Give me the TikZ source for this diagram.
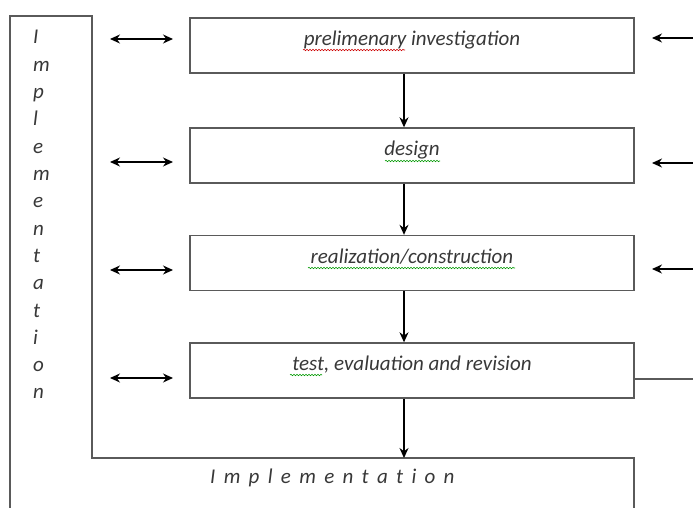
\documentclass[tikz,border=0pt]{standalone}
\usepackage{fontspec}
\setmainfont{Carlito}
\usetikzlibrary{arrows.meta,calc,positioning,decorations.pathmorphing}
\definecolor{strek}{HTML}{5A5A5A}
\definecolor{tekst}{HTML}{383838}
\tikzset{
    >={Stealth[length=10pt,width=9pt]},
    fase/.style={
           rectangle,
           draw=strek, line width=1.4pt,
           minimum width=444pt,
           minimum height=55pt,
           text height=14pt, text depth=14pt,
           inner sep=0pt,
           font=\itshape, text=tekst},
    bokstav/.style={
           inner sep=0pt,
           font=\itshape, text=tekst},
    pil/.style={
           ->,
           line width=1.2pt},
    dpil/.style={
           <->,
           line width=1.2pt},
    krus/.style={
           decorate,
           decoration={snake, amplitude=0.7pt, segment length=3pt},
           line width=0.6pt}
}

\begin{document}
\begin{tikzpicture}[x=1pt,y=-1pt]
          \fontsize{21pt}{25pt}\selectfont
          \useasboundingbox (0,0) rectangle (693,508);
          % frame round the stages
          \draw[strek, line width=1.4pt] (10,508) -- (10,16) -- (92,16) -- (92,458) coordinate (hjorne) -- (634,458) -- (634,508);
          \foreach \b [count=\i] in {I,m,p,l,e,m,e,n,t,a,t,i,o,n}
            \node[bokstav, anchor=base west] (v\i) at (33,{44+27.3*(\i-1)}) {\b};
          \node[bokstav, anchor=base west] (bunn) at (210,483) {\addfontfeature{LetterSpace=17}I m p l e m e n t a t i o n};
          % stages
          \node[fase] (forund) at (412,45.5) {prelimenary investigation};
          \node[fase] (design) at (412,155.5) {design};
          \node[fase] (konstr) at (412,263) {realization/construction};
          \node[fase] (test) at (412,370.5) {test, evaluation and revision};
          \draw[pil] ([xshift=-8pt]forund.south) -- ([xshift=-8pt]design.north);
          \draw[pil] ([xshift=-8pt]design.south) -- ([xshift=-8pt]konstr.north);
          \draw[pil] ([xshift=-8pt]konstr.south) -- ([xshift=-8pt]test.north);
          \draw[pil] ([xshift=-8pt]test.south) -- ([xshift=-8pt]test.south |- hjorne);
          % arrows at the sides
          \foreach \y [count=\i] in {39,162,270,378} {
            \coordinate (va\i) at (110,\y);
            \coordinate (vb\i) at (173,\y);
            \draw[dpil] (va\i) -- (vb\i);
          }
          \foreach \y [count=\i] in {38,163,269} {
            \coordinate (ha\i) at (693,\y);
            \coordinate (hb\i) at (652,\y);
            \draw[pil] (ha\i) -- (hb\i);
          }
          \coordinate (hut) at (693,379);
          \draw[strek, line width=1.2pt] (test.east |- hut) -- (hut);
          % spelling marks
          \draw[krus, red!80!black] (303,50) -- (405,50);
          \draw[krus, green!60!black] (385,161) -- (440,161);
          \draw[krus, green!60!black] (308,268) -- (515,268);
          \draw[krus, green!60!black] (290,375) -- (322,375);
\end{tikzpicture}
\end{document}
